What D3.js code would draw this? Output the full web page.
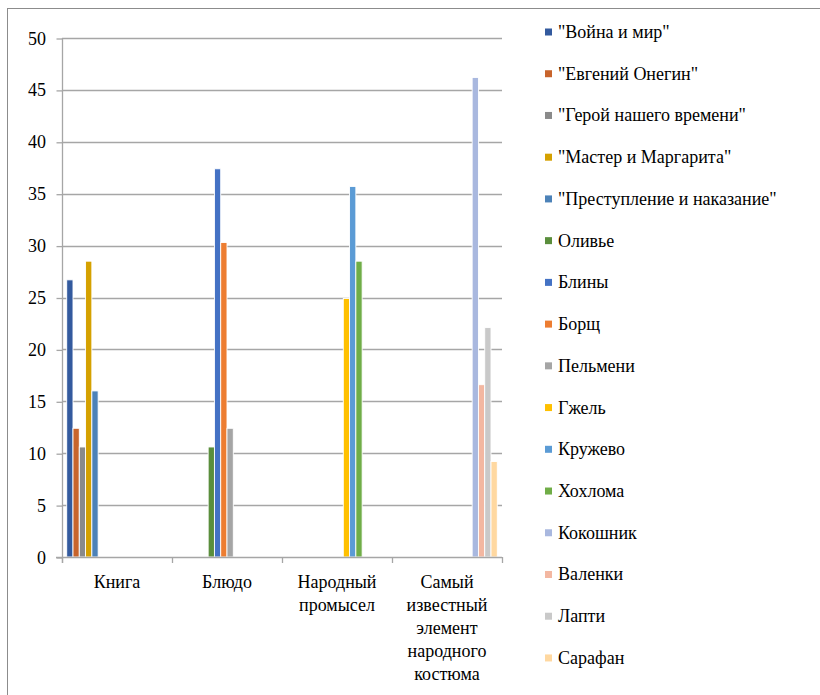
<!DOCTYPE html>
<html>
<head>
<meta charset="utf-8">
<script src="https://cdn.jsdelivr.net/npm/d3@7"></script>
</head>
<body style="margin:0">
<svg id="chart" width="820" height="695" style="display:block"></svg>
<script>
// Categories along the x axis
const categories = ["Книга", "Блюдо", "Народный промысел", "Самый известный элемент народного костюма"];

// Series (one per answer), in legend order
const seriesNames = [
  "\"Война и мир\"", "\"Евгений Онегин\"", "\"Герой нашего времени\"",
  "\"Мастер и Маргарита\"", "\"Преступление и наказание\"",
  "Оливье", "Блины", "Борщ", "Пельмени",
  "Гжель", "Кружево", "Хохлома",
  "Кокошник", "Валенки", "Лапти", "Сарафан"
];

// Values per series, one entry per category (null = no bar)
const values = [
  [26.7, null, null, null],
  [12.4, null, null, null],
  [10.6, null, null, null],
  [28.5, null, null, null],
  [16.0, null, null, null],
  [null, 10.6, null, null],
  [null, 37.4, null, null],
  [null, 30.3, null, null],
  [null, 12.4, null, null],
  [null, null, 24.9, null],
  [null, null, 35.7, null],
  [null, null, 28.5, null],
  [null, null, null, 46.2],
  [null, null, null, 16.6],
  [null, null, null, 22.1],
  [null, null, null, 9.2]
];

const yTicks = [0, 5, 10, 15, 20, 25, 30, 35, 40, 45, 50];

const seriesColors = [
  "#335A9E", "#C8642C", "#8A8A8A", "#D5A100", "#4C82B8",
  "#5A8E3C", "#4472C4", "#ED7D31", "#A5A5A5",
  "#FFC000", "#5B9BD5", "#70AD47",
  "#A9B8DF", "#F3B7A1", "#C9C9C9", "#FFD8A0"
];

const svg = d3.select("#chart");
const axisColor = "#A6A6A6";
const labelFont = () => "\"Times New Roman\"";

// outer chart frame
svg.append("rect")
  .attr("x", 7.5).attr("y", 8.5)
  .attr("width", 840).attr("height", 720)
  .attr("fill", "none").attr("stroke", "#8C8C8C").attr("stroke-width", 1);

const plot = { left: 62, right: 502, top: 38, bottom: 557 };

const y = d3.scaleLinear().domain([0, 50]).range([plot.bottom, plot.top]);
const x0 = d3.scaleBand().domain(categories).range([plot.left, plot.right]).padding(0);
const x1 = d3.scaleBand().domain(d3.range(seriesNames.length))
  .range([0, x0.bandwidth()]).paddingInner(0).paddingOuter(0.75);

// horizontal gridlines
svg.append("g").selectAll("line")
  .data(yTicks.filter(t => t > 0))
  .join("line")
  .attr("x1", plot.left).attr("x2", plot.right)
  .attr("y1", d => Math.round(y(d)) + 0.5).attr("y2", d => Math.round(y(d)) + 0.5)
  .attr("stroke", axisColor).attr("stroke-width", 1.3);

// y axis line and ticks
const yAxis = d3.axisLeft(y).tickValues(yTicks).tickSize(6).tickFormat("");
const gy = svg.append("g").attr("transform", `translate(${plot.left + 0.5},0.5)`).call(yAxis);
gy.select(".domain").remove();
gy.selectAll(".tick line").attr("stroke", axisColor).attr("stroke-width", 1.3);
gy.selectAll(".tick text").remove();
svg.append("line")
  .attr("x1", plot.left + 0.5).attr("x2", plot.left + 0.5)
  .attr("y1", plot.top).attr("y2", plot.bottom + 6)
  .attr("stroke", axisColor).attr("stroke-width", 1.3);

// y tick labels
svg.selectAll("text.ylab")
  .data(yTicks)
  .join("text")
  .attr("class", "ylab")
  .attr("x", plot.left - 16)
  .attr("y", d => y(d) + 6.5)
  .attr("text-anchor", "end")
  .style("font-family", labelFont)
  .style("font-size", "18px")
  .text(d => d);

// bars
const bars = [];
values.forEach((row, s) => row.forEach((v, c) => {
  if (v !== null) bars.push({ s, c, v });
}));
svg.append("g").selectAll("rect")
  .data(bars)
  .join("rect")
  .attr("x", d => x0(categories[d.c]) + x1(d.s))
  .attr("width", x1.bandwidth())
  .attr("y", d => y(d.v))
  .attr("height", d => y(0) - y(d.v))
  .attr("fill", d => seriesColors[d.s])
  .attr("stroke", "#fff").attr("stroke-width", 0.9);

// x axis line and category boundary ticks
const xAxis = d3.axisBottom(x0).tickSize(0).tickFormat("");
const gx = svg.append("g").attr("transform", `translate(0,${plot.bottom + 0.5})`).call(xAxis);
gx.select(".domain").attr("stroke", axisColor).attr("stroke-width", 1.3)
  .attr("d", `M${plot.left - 6},0H${plot.right}`);
gx.selectAll(".tick").remove();
svg.append("g").selectAll("line")
  .data(categories.map(c => x0(c)).concat([plot.right]))
  .join("line")
  .attr("x1", d => d + 0.5).attr("x2", d => d + 0.5)
  .attr("y1", plot.bottom).attr("y2", plot.bottom + 6)
  .attr("stroke", axisColor).attr("stroke-width", 1.3);

// category labels, word-wrapped to the band width
function wrapWords(text, maxWidth) {
  const probe = svg.append("text").style("font-family", labelFont).style("font-size", "18px");
  const words = text.split(" ");
  const lines = [];
  let line = "";
  words.forEach(w => {
    const trial = line ? line + " " + w : w;
    probe.text(trial);
    if (line && probe.node().getComputedTextLength() > maxWidth) {
      lines.push(line);
      line = w;
    } else line = trial;
  });
  if (line) lines.push(line);
  probe.remove();
  return lines;
}
const catLines = [];
categories.forEach(c => {
  wrapWords(c, 100).forEach((l, i) => catLines.push({ c, l, i }));
});
svg.selectAll("text.xlab")
  .data(catLines)
  .join("text")
  .attr("class", "xlab")
  .attr("x", d => x0(d.c) + x0.bandwidth() / 2)
  .attr("y", d => 588 + d.i * 23)
  .attr("text-anchor", "middle")
  .style("font-family", labelFont)
  .style("font-size", "18px")
  .text(d => d.l);

// legend
const legendStep = 41.73;
svg.selectAll("rect.key")
  .data(seriesNames)
  .join("rect")
  .attr("class", "key")
  .attr("x", 545).attr("y", (d, i) => 28.5 + i * legendStep)
  .attr("width", 7).attr("height", 7)
  .attr("fill", (d, i) => seriesColors[i]);
svg.selectAll("text.legend")
  .data(seriesNames)
  .join("text")
  .attr("class", "legend")
  .attr("x", 558).attr("y", (d, i) => 38 + i * legendStep)
  .style("font-family", labelFont)
  .style("font-size", "18px")
  .text(d => d);
</script>
</body>
</html>
